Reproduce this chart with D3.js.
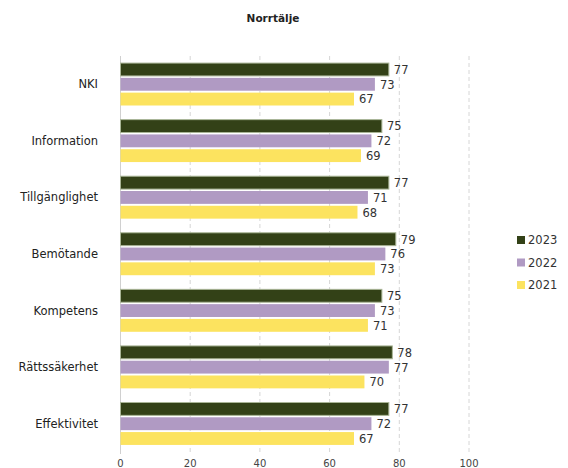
<!DOCTYPE html>
<html>
<head>
<meta charset="utf-8">
<script src="https://cdn.jsdelivr.net/npm/d3@7"></script>
<style>
  body { margin: 0; background: #fff; }
  svg { font-family: "DejaVu Sans", Verdana, sans-serif; }
</style>
</head>
<body>
<div id="chart"></div>
<script>
const categories = ["NKI", "Information", "Tillgänglighet", "Bemötande", "Kompetens", "Rättssäkerhet", "Effektivitet"]
const years = ["2023", "2022", "2021"]
const values2023 = [77, 75, 77, 79, 75, 78, 77]
const values2022 = [73, 72, 71, 76, 73, 77, 72]
const values2021 = [67, 69, 68, 73, 71, 70, 67]
const xTicks = [0, 20, 40, 60, 80, 100]
const colors = ["#334117", "#b09ac3", "#fce35f"]

const W = 568, H = 468
const margin = { top: 56, right: 99, bottom: 16, left: 120.5 }

const svg = d3.select("#chart").append("svg")
  .attr("width", W)
  .attr("height", H)

svg.append("text")
  .attr("x", 273)
  .attr("y", 22)
  .attr("text-anchor", "middle")
  .attr("font-size", "10.5px")
  .attr("font-weight", "bold")
  .attr("fill", "#222")
  .text("Norrtälje")

const x = d3.scaleLinear().domain([0, 100]).range([margin.left, W - margin.right])
const y = d3.scaleBand().domain(categories).range([margin.top, H - margin.bottom]).paddingInner(0.25).paddingOuter(0.125)
const ySub = d3.scaleBand().domain(years).range([0, y.bandwidth()]).paddingInner(0.13)

const series = [values2023, values2022, values2021]
const rows = categories.map((c, i) => ({ cat: c, vals: years.map((yr, j) => ({ year: yr, v: series[j][i], color: colors[j] })) }))

// gridlines
svg.append("g").selectAll("line")
  .data(xTicks.slice(1))
  .join("line")
  .attr("x1", d => x(d)).attr("x2", d => x(d))
  .attr("y1", margin.top).attr("y2", H - margin.bottom + 2)
  .attr("stroke", "#d6d6d6")
  .attr("stroke-dasharray", "4,3")

svg.append("line")
  .attr("x1", x(0)).attr("x2", x(0))
  .attr("y1", margin.top).attr("y2", H - margin.bottom + 2)
  .attr("stroke", "#d0d0d0")

// x tick labels
svg.append("g").selectAll("text")
  .data(xTicks)
  .join("text")
  .attr("x", d => x(d))
  .attr("y", H - 1)
  .attr("text-anchor", "middle")
  .attr("font-size", "10px")
  .attr("fill", "#444")
  .text(d => d)

const groups = svg.append("g").selectAll("g")
  .data(rows)
  .join("g")
  .attr("transform", d => `translate(0,${y(d.cat)})`)

groups.append("text")
  .attr("x", 98)
  .attr("y", y.bandwidth() / 2)
  .attr("dy", "0.35em")
  .attr("text-anchor", "end")
  .attr("font-size", "11.5px")
  .attr("fill", "#222")
  .text(d => d.cat)

groups.selectAll("rect")
  .data(d => d.vals)
  .join("rect")
  .attr("x", x(0))
  .attr("y", d => ySub(d.year))
  .attr("width", d => x(d.v) - x(0))
  .attr("height", ySub.bandwidth())
  .attr("fill", d => d.color)
  .attr("stroke", d => d.year === "2023" ? "#a9b596" : "none")
  .attr("stroke-width", 1)

groups.selectAll("text.val")
  .data(d => d.vals)
  .join("text")
  .attr("class", "val")
  .attr("x", d => x(d.v) + 5)
  .attr("y", d => ySub(d.year) + ySub.bandwidth() / 2)
  .attr("dy", "0.38em")
  .attr("font-size", "11.5px")
  .attr("fill", "#333")
  .text(d => d.v)

// legend
const legend = svg.append("g").selectAll("g")
  .data(years)
  .join("g")
  .attr("transform", (d, i) => `translate(517,${240 + i * 22.5})`)

legend.append("rect")
  .attr("x", 0).attr("y", -4)
  .attr("width", 8).attr("height", 8)
  .attr("fill", (d, i) => colors[i])

legend.append("text")
  .attr("x", 11)
  .attr("y", 0)
  .attr("dy", "0.36em")
  .attr("font-size", "11.5px")
  .attr("fill", "#333")
  .text(d => d)
</script>
</body>
</html>
